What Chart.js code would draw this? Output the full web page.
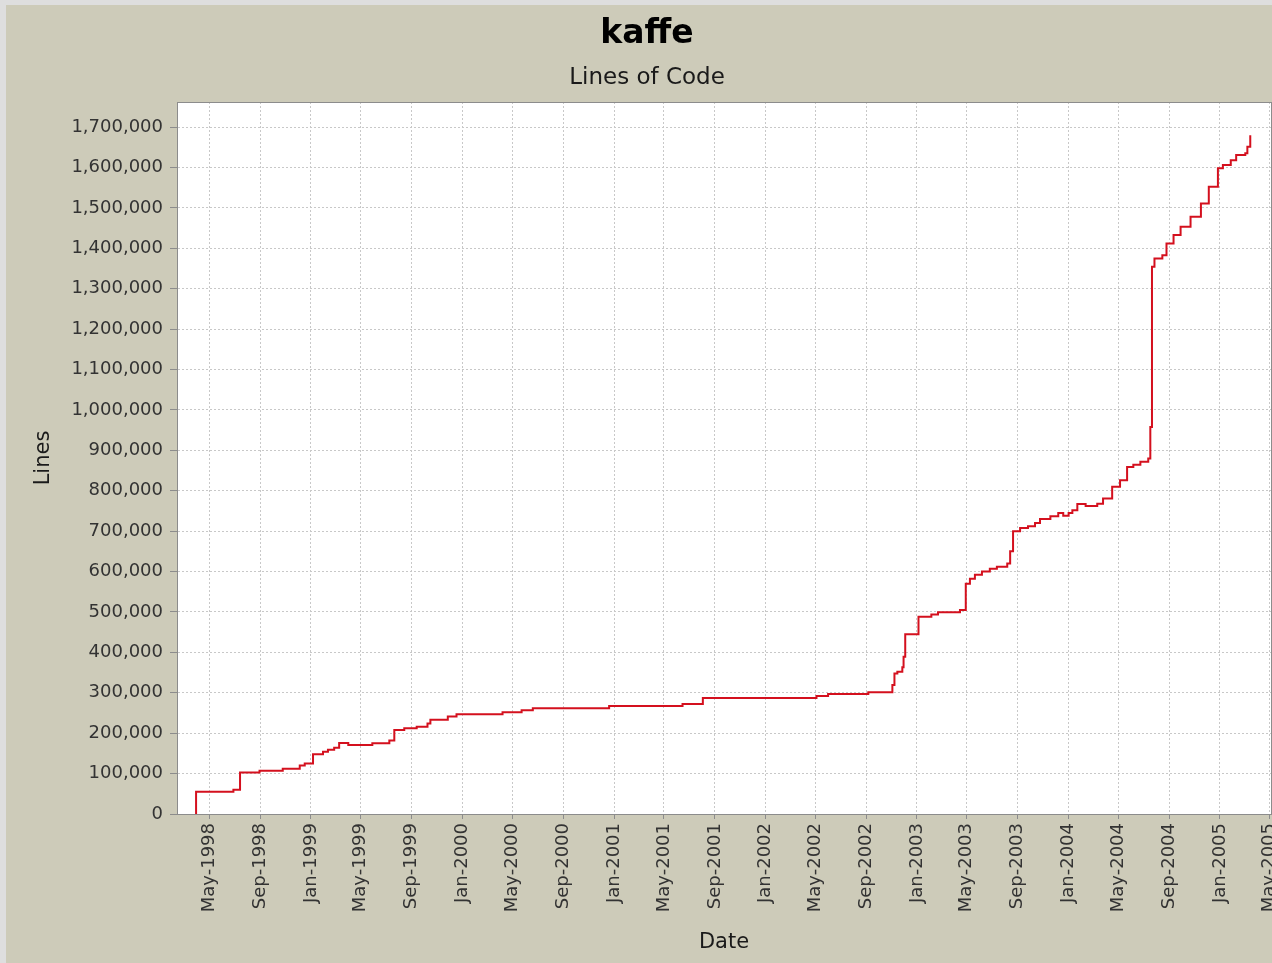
<!DOCTYPE html>
<html>
<head>
<meta charset="utf-8">
<title>kaffe - Lines of Code</title>
<script src="https://cdn.jsdelivr.net/npm/chart.js@4.4.0/dist/chart.umd.min.js"></script>
<style>
    html, body { margin: 0; padding: 0; background: #dedede; overflow: hidden; }
    #wrap { position: absolute; left: 6px; top: 5px; }
</style>
</head>
<body>
<div id="wrap"><canvas id="loc" width="1300" height="958"></canvas></div>
<script>
// lines of code, one point per change (date, total lines)
var dates = [
    '1998-03-30', '1998-03-30', '1998-06-28', '1998-07-14', '1998-08-30', '1998-10-25',
    '1998-12-05', '1998-12-17', '1999-01-06', '1999-01-30', '1999-02-11', '1999-02-26',
    '1999-03-10', '1999-04-01', '1999-05-29', '1999-07-09', '1999-07-21', '1999-08-14',
    '1999-09-13', '1999-10-09', '1999-10-16', '1999-11-27', '1999-12-18', '2000-04-07',
    '2000-05-23', '2000-06-19', '2000-12-20', '2001-06-15', '2001-08-03', '2002-05-04',
    '2002-06-01', '2002-09-06', '2002-11-03', '2002-11-08', '2002-11-15', '2002-11-27',
    '2002-11-30', '2002-12-04', '2003-01-05', '2003-02-05', '2003-02-21', '2003-04-15',
    '2003-04-29', '2003-05-09', '2003-05-21', '2003-06-07', '2003-06-26', '2003-07-13',
    '2003-08-07', '2003-08-14', '2003-08-21', '2003-09-07', '2003-09-26', '2003-10-13',
    '2003-10-25', '2003-11-19', '2003-12-08', '2003-12-20', '2004-01-02', '2004-01-11',
    '2004-01-23', '2004-02-12', '2004-03-11', '2004-03-25', '2004-04-16', '2004-05-05',
    '2004-05-22', '2004-06-06', '2004-06-23', '2004-07-12', '2004-07-17', '2004-07-21',
    '2004-07-27', '2004-08-15', '2004-08-25', '2004-09-11', '2004-09-28', '2004-10-22',
    '2004-11-16', '2004-12-05', '2004-12-27', '2005-01-08', '2005-01-27', '2005-02-09',
    '2005-03-03', '2005-03-08', '2005-03-15'
];
var lines = [
    0, 55000, 60000, 103000, 107000, 112000,
    120000, 125000, 148000, 154000, 159000, 164000,
    176000, 171000, 175000, 182000, 208000, 212000,
    216000, 224000, 233000, 241000, 247000, 252000,
    257000, 262000, 267000, 272000, 287000, 292000,
    297000, 301000, 319000, 348000, 352000, 363000,
    389000, 445000, 488000, 494000, 499000, 505000,
    570000, 582000, 592000, 600000, 607000, 612000,
    620000, 650000, 700000, 708000, 712000, 720000,
    730000, 737000, 745000, 738000, 745000, 752000,
    767000, 762000, 768000, 781000, 810000, 826000,
    859000, 864000, 872000, 880000, 958000, 1354000,
    1375000, 1383000, 1412000, 1433000, 1453000, 1478000,
    1511000, 1552000, 1598000, 1606000, 1618000, 1631000,
    1635000, 1651000, 1680000
];

var tickDates = [
    '1998-05-01', '1998-09-01', '1999-01-01', '1999-05-01', '1999-09-01', '2000-01-01',
    '2000-05-01', '2000-09-01', '2001-01-01', '2001-05-01', '2001-09-01', '2002-01-01',
    '2002-05-01', '2002-09-01', '2003-01-01', '2003-05-01', '2003-09-01', '2004-01-01',
    '2004-05-01', '2004-09-01', '2005-01-01', '2005-05-01'
];
var tickLabels = [
    'May-1998', 'Sep-1998', 'Jan-1999', 'May-1999', 'Sep-1999', 'Jan-2000',
    'May-2000', 'Sep-2000', 'Jan-2001', 'May-2001', 'Sep-2001', 'Jan-2002',
    'May-2002', 'Sep-2002', 'Jan-2003', 'May-2003', 'Sep-2003', 'Jan-2004',
    'May-2004', 'Sep-2004', 'Jan-2005', 'May-2005'
];
var yTicks = [
    0, 100000, 200000, 300000, 400000, 500000, 600000, 700000, 800000, 900000,
    1000000, 1100000, 1200000, 1300000, 1400000, 1500000, 1600000, 1700000
];

var font = 'DejaVu Sans';

var points = dates.map(function (d, i) {
    return { x: Date.parse(d), y: lines[i] };
});

// beige page, white plot with a grey outline
var plotBox = {
    id: 'plotBox',
    beforeDraw: function (chart) {
        var a = chart.chartArea, ctx = chart.ctx;
        ctx.save();
        ctx.fillStyle = '#cdcbb9';
        ctx.fillRect(0, 0, chart.width, chart.height);
        ctx.fillStyle = '#ffffff';
        ctx.fillRect(a.left, a.top, a.right - a.left, a.bottom - a.top);
        ctx.restore();
    },
    afterDraw: function (chart) {
        var a = chart.chartArea, ctx = chart.ctx;
        ctx.save();
        ctx.strokeStyle = '#8c8c8c';
        ctx.lineWidth = 1;
        ctx.strokeRect(Math.round(a.left) + 0.5, Math.round(a.top) + 0.5,
            Math.round(a.right - a.left), Math.round(a.bottom - a.top));
        ctx.restore();
    }
};

var ctx = document.getElementById('loc');

var chartGraph = new Chart(ctx, {
    type: 'line',
    data: {
        datasets: [
            {
                label: 'Lines',
                data: points,
                stepped: 'before',
                borderColor: '#d4101e',
                borderWidth: 2,
                pointRadius: 0,
                fill: false
            }
        ]
    },
    plugins: [plotBox],
    options: {
        responsive: false,
        animation: false,
        layout: {
            padding: { left: 17, right: 35, top: 0, bottom: 0 }
        },
        plugins: {
            legend: { display: false },
            tooltip: { enabled: false },
            title: {
                display: true,
                text: 'kaffe',
                color: '#000000',
                font: { family: font, size: 33, weight: 'bold' },
                padding: { top: 10, bottom: 0 }
            },
            subtitle: {
                display: true,
                text: 'Lines of Code',
                color: '#1a1a1a',
                font: { family: font, size: 23 },
                padding: { top: 9.6, bottom: 10.2 }
            }
        },
        scales: {
            x: {
                type: 'linear',
                min: Date.parse('1998-02-12'),
                max: Date.parse('2005-05-04'),
                afterBuildTicks: function (scale) {
                    scale.ticks = tickDates.map(function (d) { return { value: Date.parse(d) }; });
                },
                afterFit: function (scale) { scale.height = 149; },
                ticks: {
                    autoSkip: false,
                    minRotation: 90,
                    maxRotation: 90,
                    padding: 4,
                    color: '#333333',
                    font: { family: font, size: 18 },
                    callback: function (value, index) { return tickLabels[index]; }
                },
                grid: {
                    color: '#c8c8c8',
                    tickLength: 5,
                    tickColor: '#8c8c8c',
                    tickBorderDash: []
                },
                border: { color: '#8c8c8c', dash: [2, 2] },
                title: {
                    display: true,
                    text: 'Date',
                    color: '#1a1a1a',
                    font: { family: font, size: 21 },
                    padding: { top: 0, bottom: 8 }
                }
            },
            y: {
                type: 'linear',
                min: 0,
                max: 1762000,
                afterBuildTicks: function (scale) {
                    scale.ticks = yTicks.map(function (v) { return { value: v }; });
                },
                afterFit: function (scale) { scale.width = 154; },
                ticks: {
                    padding: 7,
                    color: '#333333',
                    font: { family: font, size: 18 },
                    callback: function (value) { return value.toLocaleString('en-US'); }
                },
                grid: {
                    color: '#c8c8c8',
                    tickLength: 7,
                    tickColor: '#8c8c8c',
                    tickBorderDash: []
                },
                border: { color: '#8c8c8c', dash: [2, 2] },
                title: {
                    display: true,
                    text: 'Lines',
                    color: '#1a1a1a',
                    font: { family: font, size: 21 },
                    padding: { top: 8, bottom: 0 }
                }
            }
        }
    }
});
</script>
</body>
</html>
